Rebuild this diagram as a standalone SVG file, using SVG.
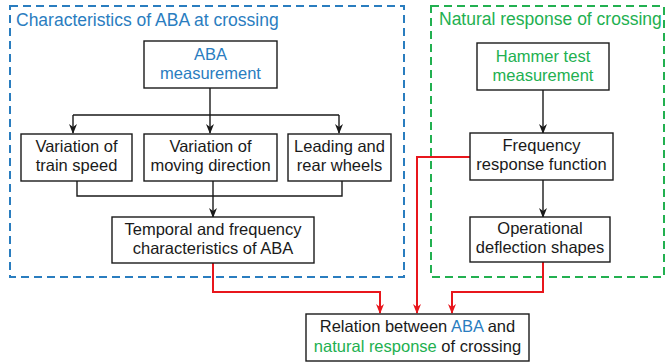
<svg xmlns="http://www.w3.org/2000/svg" width="669" height="364" viewBox="0 0 669 364">
<style>
text{font-family:"Liberation Sans",Arial,sans-serif;font-size:16.5px;fill:#1a1a1a;text-anchor:middle}
.t{font-size:17.5px;text-anchor:start}
.b{fill:#2a7dbf}
.g{fill:#22b050}
.box{fill:#fff;stroke:#1a1a1a;stroke-width:1.4}
.k{fill:none;stroke:#1a1a1a;stroke-width:1.4}
.r{fill:none;stroke:#e8161c;stroke-width:2}
</style>
<defs>
<marker id="ak" markerWidth="8" markerHeight="10" refX="4" refY="9" markerUnits="userSpaceOnUse" viewBox="0 0 8 10"><path d="M0,0 L4,10 L8,0 L4,3 Z" fill="#1a1a1a"/></marker>
<marker id="ar" markerWidth="8" markerHeight="10" refX="4" refY="9" markerUnits="userSpaceOnUse" viewBox="0 0 8 10"><path d="M0,0 L4,10 L8,0 L4,3 Z" fill="#e8161c"/></marker>
</defs>
<g id="group-aba">
<rect x="10" y="6" width="394" height="271" fill="none" stroke="#2a7dbf" stroke-width="2" stroke-dasharray="8,5"/>
<text class="t b" x="16" y="26">Characteristics of ABA at crossing</text>
</g>
<g id="group-natural">
<rect x="431" y="6" width="233" height="271" fill="none" stroke="#22b050" stroke-width="2" stroke-dasharray="8,5"/>
<text class="t g" x="439" y="25">Natural response of crossing</text>
</g>
<g id="connectors">
<path class="k" d="M210,88 V115 M73,115 H339"/>
<path class="k" d="M73,115 V133" marker-end="url(#ak)"/>
<path class="k" d="M210,115 V133" marker-end="url(#ak)"/>
<path class="k" d="M339,115 V133" marker-end="url(#ak)"/>
<path class="k" d="M77,181 V196 H342 V181"/>
<path class="k" d="M213,181 V217" marker-end="url(#ak)"/>
<path class="k" d="M543,90 V133" marker-end="url(#ak)"/>
<path class="k" d="M543,180 V217" marker-end="url(#ak)"/>
<path class="r" d="M213,263 V292 H380 V313" marker-end="url(#ar)"/>
<path class="r" d="M470,157 H417 V313" marker-end="url(#ar)"/>
<path class="r" d="M543,262 V292 H452 V313" marker-end="url(#ar)"/>
</g>
<g id="aba-measurement">
<rect class="box" x="144" y="41" width="133" height="47"/>
<text class="b" x="210.5" y="60">ABA</text>
<text class="b" x="210.5" y="79">measurement</text>
</g>
<g id="train-speed">
<rect class="box" x="21" y="134" width="111" height="47"/>
<text x="76.5" y="152">Variation of</text>
<text x="76.5" y="171">train speed</text>
</g>
<g id="moving-direction">
<rect class="box" x="144" y="134" width="133" height="47"/>
<text x="210.5" y="152">Variation of</text>
<text x="210.5" y="171">moving direction</text>
</g>
<g id="wheels">
<rect class="box" x="288" y="134" width="103" height="47"/>
<text x="339.5" y="152">Leading and</text>
<text x="339.5" y="171">rear wheels</text>
</g>
<g id="temporal">
<rect class="box" x="112" y="217" width="202" height="46"/>
<text x="213" y="235">Temporal and frequency</text>
<text x="213" y="254">characteristics of ABA</text>
</g>
<g id="hammer">
<rect class="box" x="477" y="43" width="132" height="47"/>
<text class="g" x="543" y="62">Hammer test</text>
<text class="g" x="543" y="81">measurement</text>
</g>
<g id="frf">
<rect class="box" x="470" y="133" width="143" height="47"/>
<text x="541.5" y="151">Frequency</text>
<text x="541.5" y="170">response function</text>
</g>
<g id="ods">
<rect class="box" x="470" y="217" width="140" height="45"/>
<text x="540" y="234">Operational</text>
<text x="540" y="253">deflection shapes</text>
</g>
<g id="relation">
<rect class="box" x="306" y="314" width="223" height="47"/>
<text x="417.5" y="332">Relation between <tspan class="b">ABA</tspan> and</text>
<text x="417.5" y="352"><tspan class="g">natural response</tspan> of crossing</text>
</g>
</svg>
